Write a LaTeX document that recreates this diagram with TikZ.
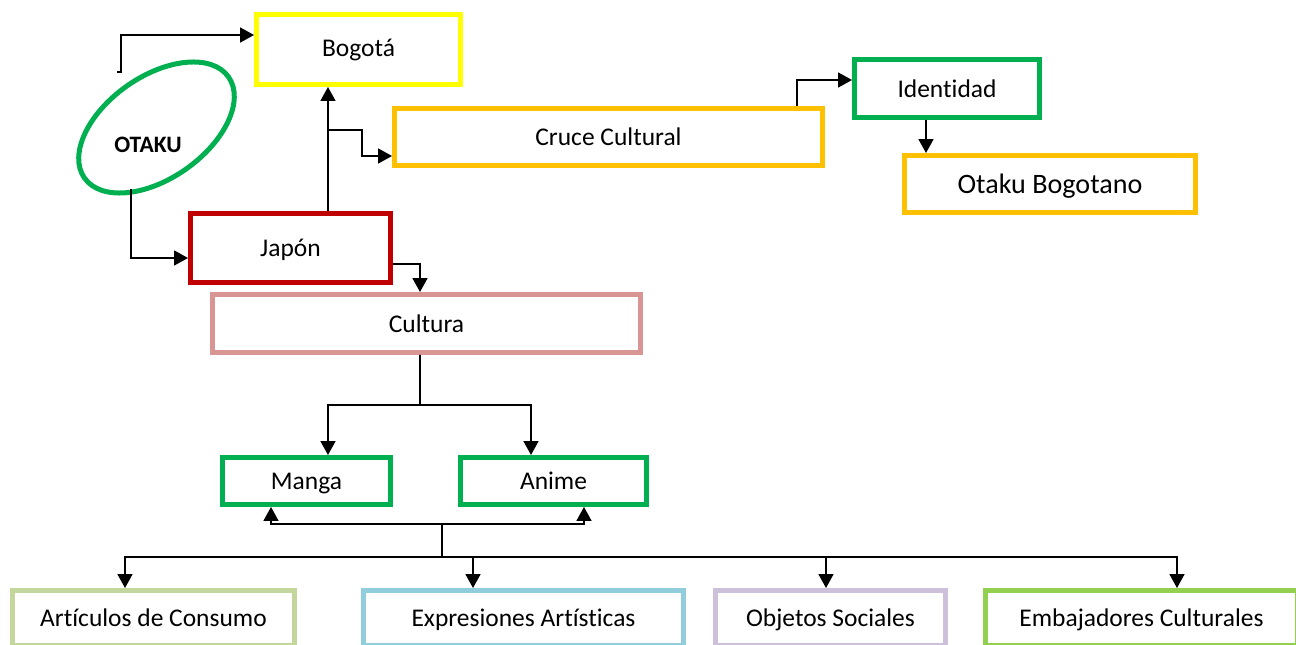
\documentclass[tikz,border=0pt]{standalone}
\usepackage{fontspec}
\setmainfont{Carlito}[Ligatures=NoCommon]
\usepackage{tikz}
\usetikzlibrary{arrows.meta,positioning,shapes.geometric}
\usepackage{xcolor}

\definecolor{amarillo}{HTML}{FFFF00}
\definecolor{naranja}{HTML}{FFC000}
\definecolor{verde}{HTML}{00B050}
\definecolor{rojo}{HTML}{C00000}
\definecolor{rosa}{HTML}{D99594}
\definecolor{oliva}{HTML}{C3D69B}
\definecolor{celeste}{HTML}{92CDDC}
\definecolor{lila}{HTML}{CCC0DA}
\definecolor{pasto}{HTML}{92D050}

\tikzset{
	caja/.style={draw=#1,line width=0.1cm,fill=white,inner sep=0pt,text depth=0pt,align=center,font=\fontsize{14.5}{17}\selectfont},
	flecha/.style={line width=0.035cm,-{Triangle[length=0.28cm,width=0.3cm]}},
	linea/.style={line width=0.035cm}
}

\begin{document}
\begin{tikzpicture}[x=0.02cm,y=-0.02cm]
	\clip (0,0) rectangle (1296,645);

	\node[ellipse,draw=verde,line width=0.1cm,minimum width=3.52cm,minimum height=2.04cm,rotate=35] (otaku) at (156.5,127.5) {};
	\node[font=\fontsize{13.4}{16}\selectfont\bfseries] (otakutxt) at (148,145) {OTAKU};
	\coordinate (o1) at (117,72);
	\coordinate (o2) at (131,189);

	\begin{scope}[every node/.append style={minimum height=1.14cm}]
		\node[caja=amarillo,minimum width=4.08cm,minimum height=1.4cm,text depth=0.4ex] (bogota) at (358.5,49.5) {Bogotá};
		\node[caja=naranja,minimum width=8.56cm] (cruce) at (608.5,137) {Cruce Cultural};
		\node[caja=verde,minimum width=3.7cm,minimum height=1.16cm] (identidad) at (947,88.5) {Identidad};
		\node[caja=naranja,minimum width=5.82cm,font=\fontsize{16}{19}\selectfont] (otakubog) at (1050,184) {Otaku Bogotano};
		\node[caja=rojo,minimum width=4cm,minimum height=1.38cm] (japon) at (290.5,248) {Japón};
		\node[caja=rosa,minimum width=8.56cm,minimum height=1.16cm] (cultura) at (426.5,323.5) {Cultura};

		\node[caja=verde,minimum width=3.36cm,minimum height=0.94cm] (manga) at (306.5,481) {Manga};
		\node[caja=verde,minimum width=3.72cm,minimum height=0.94cm] (anime) at (553.5,481) {Anime};

		\node[caja=oliva,minimum width=5.64cm,minimum height=1.1cm] (articulos) at (153.5,618) {Artículos de Consumo};
		\node[caja=celeste,minimum width=6.4cm,minimum height=1.1cm] (expresiones) at (523.5,618) {Expresiones Artísticas};
		\node[caja=lila,minimum width=4.6cm,minimum height=1.1cm] (objetos) at (830.5,618) {Objetos Sociales};
		\node[caja=pasto,minimum width=6.24cm,minimum height=1.1cm] (embajadores) at (1141.5,618) {Embajadores Culturales};
	\end{scope}

	% otaku
	\draw[flecha] (o1) -- ++(4,0) |- ([yshift=0.29cm]bogota.west);
	\draw[flecha] (o2) |- ([yshift=-0.2cm]japon.west);

	% japon hacia bogota y cruce
	\coordinate (eje) at ([xshift=0.75cm]japon.north);
	\coordinate (rama) at (328,130);
	\draw[flecha] (eje) -- (eje |- bogota.south);
	\draw[flecha] (rama) -- ++(34,0) |- ([yshift=-0.38cm]cruce.west);
	\draw[flecha] ([xshift=3.77cm]cruce.north) |- ([yshift=0.17cm]identidad.west);
	\coordinate (baja) at ([xshift=-0.42cm]identidad.south);
	\draw[flecha] (baja) -- (baja |- otakubog.north);

	% cultura
	\draw[flecha] ([yshift=-0.32cm]japon.east) -| ([xshift=-0.13cm]cultura.north);
	\coordinate (nudo) at (420,405);
	\draw[linea] ([xshift=-0.13cm]cultura.south) -- (nudo);
	\draw[flecha] (nudo) -| ([xshift=0.43cm]manga.north);
	\draw[flecha] (nudo) -| ([xshift=-0.45cm]anime.north);

	% bus inferior
	\coordinate (bus) at (442,557);
	\coordinate (sube) at (442,524);
	\draw[linea] (bus) -- (sube);
	\draw[flecha] (sube) -| ([xshift=-0.71cm]manga.south);
	\draw[flecha] (sube) -| ([xshift=0.61cm]anime.south);
	\foreach \destino/\dx in {articulos/-0.57,expresiones/-1.01,objetos/-0.09,embajadores/0.71}
		\draw[flecha] (bus) -| ([xshift=\dx cm]\destino.north);
\end{tikzpicture}
\end{document}
